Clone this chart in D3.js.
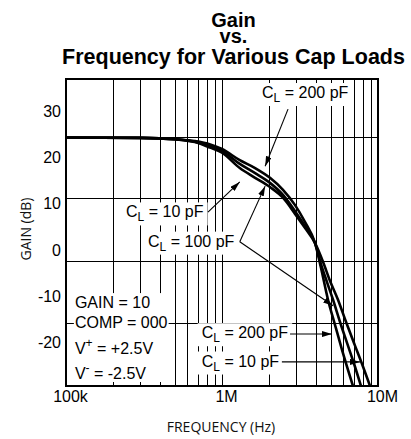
<!DOCTYPE html>
<html><head><meta charset="utf-8">
<script src="https://cdn.jsdelivr.net/npm/d3@7"></script>
<style>body{margin:0;background:#fff}</style>
</head><body>
<svg id="c" width="411" height="439"></svg>
<script>
// ---------- data ----------
const titleLines = ["Gain", "vs.", "Frequency for Various Cap Loads"];
const xTickValues = [1e5, 1e6, 1e7];
const xTickLabels = ["100k", "1M", "10M"];
const yTickValues = [30, 20, 10, 0, -10, -20];
const yTickLabels = ["30", "20", "10", "0", "-10", "-20"];
const xGridValues = [2e5,3e5,4e5,5e5,6e5,7e5,8e5,9e5,1e6,2e6,3e6,4e6,5e6,6e6,7e6,8e6,9e6];
const yGridValues = [24.4, 11.2, -2.3, -15.7];

const seriesNames = ["CL200", "CL100", "CL10"];
const freq200 = [1e5,3e5,5e5,6.7e5,8.4e5,1e6,1.3e6,1.63e6,2.03e6,2.46e6,2.94e6,3.4e6,3.95e6,4.31e6,4.78e6,5.3e6,5.88e6,6.91e6];
const gain200 = [24.3,24.2,23.9,23.5,22.8,21.8,19.4,17.7,15.6,13.0,9.7,6.1,1.5,-3.8,-10.7,-16.1,-21.5,-29.3];
const freq100 = [1e5,3e5,5e5,6.7e5,8.4e5,1e6,1.3e6,1.63e6,2.03e6,2.46e6,2.94e6,3.4e6,3.95e6,4.31e6,4.71e6,5.15e6,5.71e6,6.33e6,7.02e6,7.78e6];
const gain100 = [24.3,24.2,23.9,23.4,22.5,21.4,18.6,16.6,14.5,11.9,8.4,5.2,1.5,-3.0,-6.9,-10.7,-15.5,-20.0,-24.5,-29.3];
const freq10 = [1e5,3e5,5e5,6.7e5,8.4e5,1e6,1.3e6,1.63e6,2.03e6,2.46e6,2.94e6,3.4e6,3.95e6,4.44e6,4.92e6,5.54e6,6.24e6,7.12e6,7.89e6,8.89e6];
const gain10 = [24.3,24.2,23.9,23.3,22.1,21.0,17.7,15.6,13.6,11.3,7.8,4.8,1.5,-2.5,-6.6,-10.7,-15.5,-20.6,-24.5,-29.3];

// annotation labels: [freq, dB] of text start/baseline
const curveLabels = [
  {pos:[1.805e6, 32.8], parts:[["C"],["L","sub"],[" = 200 pF"]]},
  {pos:[2.425e5, 7.05], parts:[["C"],["L","sub"],[" = 10 pF"]]},
  {pos:[3.355e5, 0.75], parts:[["C"],["L","sub"],[" = 100 pF"]]},
  {pos:[7.41e5, -19.0], parts:[["C"],["L","sub"],[" = 200 pF"]]},
  {pos:[7.41e5, -25.1], parts:[["C"],["L","sub"],[" = 10 pF"]]}
];
const arrows = [
  {from:[2.65e6, 30.4], to:[1.89e6, 18.1]},
  {from:[8.13e5, 8.2], to:[1.3e6, 14.7]},
  {from:[1.3e6, 1.8], to:[1.89e6, 13.8]},
  {from:[1.3e6, 1.8], to:[5.15e6, -12.0]},
  {from:[2.73e6, -18.1], to:[5.07e6, -18.1]},
  {from:[2.42e6, -24.1], to:[7.67e6, -24.1]}
];
const condFreq = 1.14e5;
const condLines = [
  {db:-12.5, parts:[["GAIN = 10"]]},
  {db:-16.7, parts:[["COMP = 000"]]},
  {db:-22.4, parts:[["V"],["+","sup"],[" = +2.5V"]]},
  {db:-27.8, parts:[["V"],["-","sup"],[" = -2.5V"]]}
];
const xAxisTitle = "FREQUENCY (Hz)";
const yAxisTitle = "GAIN (dB)";

// ---------- layout ----------
const svg = d3.select("#c");
const L = 66, R = 378, T = 79, B = 386;
const x = d3.scaleLog().domain([1e5, 1e7]).range([L, R]);
const y = d3.scaleLinear().domain([-29.3, 36.9]).range([B, T]);
const px = v => Math.round(x(v)) + 0.5;
const py = v => Math.round(y(v)) + 0.5;
const labelFont = "'Liberation Sans', Arial, sans-serif";

// title (one text block, three centred lines)
const tY = [27, 43, 64];
const tSize = [20, 20, 21.5];
svg.append("text")
  .attr("text-anchor", "middle")
  .attr("font-family", labelFont).attr("font-weight", "bold")
  .selectAll("tspan").data(titleLines).join("tspan")
  .attr("x", 233.5).attr("y", (d,i) => tY[i]).attr("font-size", (d,i) => tSize[i])
  .text(d => d);

// grid
const grid = svg.append("g").attr("stroke", "#000").attr("stroke-width", 1);
grid.selectAll(".vx").data(xGridValues).join("line")
  .attr("x1", px).attr("x2", px).attr("y1", T).attr("y2", B);
grid.selectAll(".hy").data(yGridValues).join("line")
  .attr("x1", L).attr("x2", R).attr("y1", py).attr("y2", py);

// curves
svg.append("defs").append("clipPath").attr("id", "clip")
  .append("rect").attr("x", L).attr("y", T).attr("width", R - L).attr("height", B - T);
const series = [
  {name: seriesNames[0], f: freq200, g: gain200},
  {name: seriesNames[1], f: freq100, g: gain100},
  {name: seriesNames[2], f: freq10, g: gain10}
];
const line = d3.line().x(d => x(d[0])).y(d => y(d[1])).curve(d3.curveMonotoneX);
svg.append("g").attr("clip-path", "url(#clip)")
  .selectAll("path").data(series).join("path")
  .attr("d", s => line(s.f.map((f, i) => [f, s.g[i]])))
  .attr("fill", "none").attr("stroke", "#000").attr("stroke-width", 2.6);

// text helper
function richText(g, xx, yy, parts) {
  const t = g.append("text").attr("x", xx).attr("y", yy)
    .attr("font-family", labelFont).attr("font-size", 16).attr("fill", "#000");
  let shift = 0;
  parts.forEach(p => {
    const ts = t.append("tspan").text(p[0]);
    let target = 0;
    if (p[1] === "sub") { ts.attr("font-size", 12); target = 4; }
    if (p[1] === "sup") { ts.attr("font-size", 12); target = -7; }
    if (target - shift !== 0) ts.attr("dy", target - shift);
    shift = target;
  });
  return t;
}

// arrow marker
const marker = svg.select("defs").append("marker").attr("id", "ah")
  .attr("viewBox", "0 0 10 6").attr("refX", 10).attr("refY", 3)
  .attr("markerWidth", 10).attr("markerHeight", 6)
  .attr("markerUnits", "userSpaceOnUse").attr("orient", "auto");
marker.append("path").attr("d", "M0,0 L10,3 L0,6 Z").attr("fill", "#000");

// curve labels with white backgrounds
const lab = svg.append("g");
curveLabels.forEach(c => {
  const gg = lab.append("g");
  const t = richText(gg, x(c.pos[0]), y(c.pos[1]), c.parts);
  const b = t.node().getBBox();
  gg.insert("rect", "text").attr("x", b.x - 4).attr("y", b.y - 1)
    .attr("width", b.width + 8).attr("height", b.height + 2).attr("fill", "#fff");
});

svg.append("g").selectAll("line").data(arrows).join("line")
  .attr("x1", d => x(d.from[0])).attr("y1", d => y(d.from[1]))
  .attr("x2", d => x(d.to[0])).attr("y2", d => y(d.to[1]))
  .attr("stroke", "#000").attr("stroke-width", 1.1)
  .attr("marker-end", "url(#ah)");

// conditions block
const cond = svg.append("g");
const bgRect = cond.append("rect").attr("fill", "#fff");
const gridOver = cond.append("line").attr("stroke", "#000").attr("stroke-width", 1);
const condTexts = condLines.map(c => {
  const gg = cond.append("g");
  const t = richText(gg, x(condFreq), y(c.db), c.parts);
  const b = t.node().getBBox();
  gg.insert("rect", "text").attr("x", b.x - 1).attr("y", b.y + 2)
    .attr("width", b.width + 2).attr("height", b.height - 4).attr("fill", "#fff");
  return b;
});
const minY = d3.min(condTexts, b => b.y), maxX = d3.max(condTexts, b => b.x + b.width);
bgRect.attr("x", L + 1).attr("y", minY - 1).attr("width", maxX + 3 - L - 1).attr("height", B - 4 - minY + 1);
gridOver.attr("x1", L).attr("x2", maxX + 4).attr("y1", py(yGridValues[3])).attr("y2", py(yGridValues[3]));

// frame
svg.append("rect").attr("x", L).attr("y", T).attr("width", R - L).attr("height", B - T)
  .attr("fill", "none").attr("stroke", "#000").attr("stroke-width", 2);

// y tick labels
svg.append("g").selectAll("text").data(yTickValues).join("text")
  .attr("x", 61).attr("y", d => y(d)).attr("dy", "0.35em")
  .attr("text-anchor", "end").attr("font-family", labelFont).attr("font-size", 16)
  .text((d, i) => yTickLabels[i]);
// x tick labels
svg.append("g").selectAll("text").data(xTickValues).join("text")
  .attr("x", d => x(d) + 4.5).attr("y", 402)
  .attr("text-anchor", "middle").attr("font-family", labelFont).attr("font-size", 16)
  .text((d, i) => xTickLabels[i]);

// axis titles
svg.append("text").attr("x", 221).attr("y", 431.5).attr("text-anchor", "middle")
  .attr("font-family", "'Open Sans', sans-serif").attr("font-size", 14).attr("fill", "#111")
  .text(xAxisTitle);
svg.append("text").attr("transform", "translate(31,229) rotate(-90)").attr("text-anchor", "middle")
  .attr("font-family", "'Open Sans', sans-serif").attr("font-size", 14).attr("fill", "#111")
  .text(yAxisTitle);
</script>
</body></html>
